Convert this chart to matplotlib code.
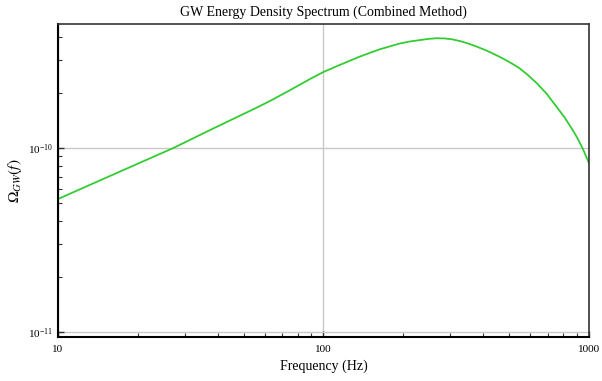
import matplotlib
matplotlib.use("Agg")
import matplotlib.pyplot as plt
from matplotlib.ticker import NullFormatter

plt.rcParams["font.family"] = ["Liberation Serif", "DejaVu Serif"]
plt.rcParams["mathtext.fontset"] = "stix"

# spectrum samples: frequency (Hz) and Omega_GW
freq_hz = [10.0, 13.2, 18.7, 27.2, 39.0, 55.2, 62.8, 74.7, 88.9, 100.0,
           115.3, 137.0, 163.0, 194.0, 211.0, 231.0, 249.0, 267.0, 286.0,
           307.0, 332.0, 356.0, 381.0, 412.0, 441.0, 473.0, 512.0, 548.0,
           589.0, 636.0, 693.0, 756.0, 811.0, 869.0, 908.0, 948.0, 1000.0]
omega_gw = [5.28e-11, 6.31e-11, 7.88e-11, 1.00e-10, 1.29e-10, 1.64e-10,
            1.80e-10, 2.06e-10, 2.37e-10, 2.59e-10, 2.83e-10, 3.14e-10,
            3.44e-10, 3.70e-10, 3.79e-10, 3.86e-10, 3.92e-10, 3.95e-10,
            3.94e-10, 3.89e-10, 3.79e-10, 3.67e-10, 3.54e-10, 3.38e-10,
            3.23e-10, 3.07e-10, 2.88e-10, 2.71e-10, 2.49e-10, 2.25e-10,
            1.97e-10, 1.67e-10, 1.46e-10, 1.25e-10, 1.12e-10, 9.90e-11,
            8.28e-11]

x_ticks = [10, 100, 1000]
x_tick_labels = ["10", "100", "1000"]

fig = plt.figure(figsize=(6.02, 3.81), dpi=100)
ax = fig.add_axes([0.0963, 0.1155, 0.8821, 0.8215])

ax.loglog(freq_hz, omega_gw, color="#33cc33", linewidth=1.3)

ax.set_xlim(10, 1000)
ax.set_ylim(9.4e-12, 4.72e-10)
ax.set_xticks(x_ticks, labels=x_tick_labels)
ax.xaxis.set_minor_formatter(NullFormatter())
ax.yaxis.set_minor_formatter(NullFormatter())

ax.grid(True, which="major", color="#c8c8c8", linewidth=1.0)
ax.set_axisbelow(True)

ax.tick_params(which="both", direction="in", labelsize=8, colors="#333333",
               labelcolor="black")
ax.tick_params(which="major", length=4, width=1.0)
ax.tick_params(which="minor", length=3, width=0.8)
ax.tick_params(axis="x", pad=6)

for side in ["left", "bottom"]:
    ax.spines[side].set_linewidth(1.5)
    ax.spines[side].set_color("black")
for side in ["top", "right"]:
    ax.spines[side].set_linewidth(1.2)
    ax.spines[side].set_color("#333333")

ax.set_title("GW Energy Density Spectrum (Combined Method)", fontsize=10, pad=6)
ax.set_xlabel("Frequency (Hz)", fontsize=10, labelpad=4)
ax.set_ylabel(r"$\Omega_{GW}(f)$", fontsize=11, labelpad=3)

fig.savefig("out.png", dpi=100, facecolor="white")
